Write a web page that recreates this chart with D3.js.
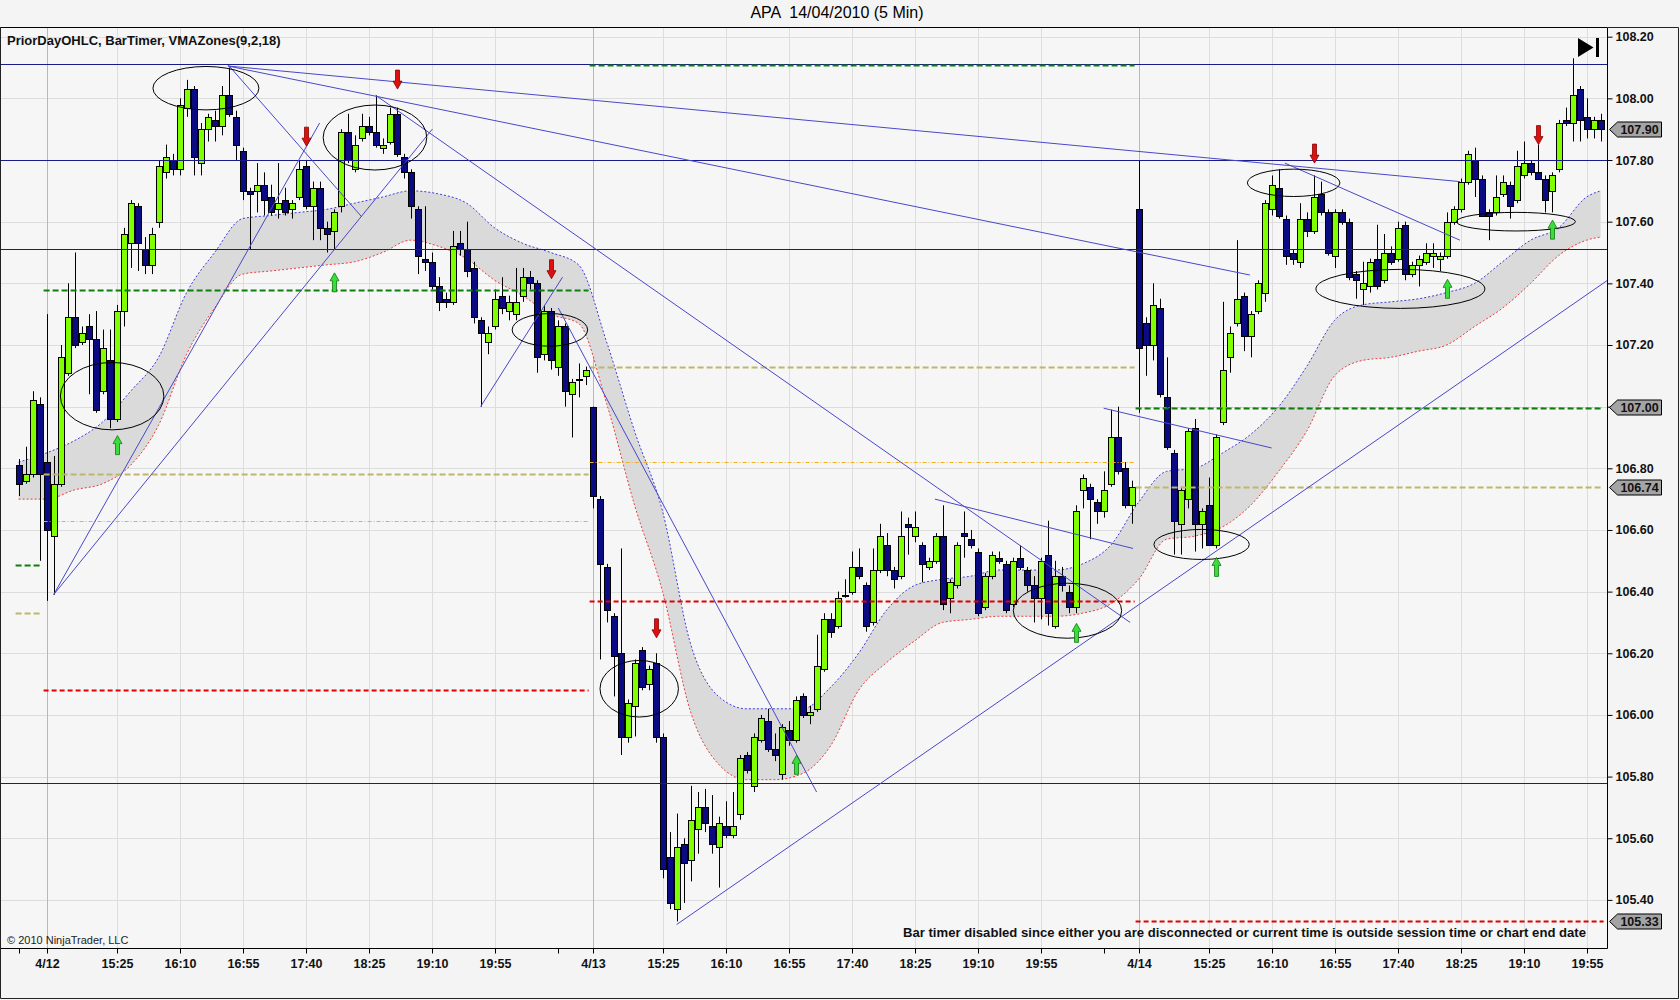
<!DOCTYPE html>
<html>
<head>
<meta charset="utf-8">
<script src="https://cdn.jsdelivr.net/npm/d3@7"></script>
<style>
  body { margin: 0; background: #f4f4f4; }
  svg text { font-family: "Liberation Sans", Arial, sans-serif; }
</style>
</head>
<body>
<svg id="chart" width="1680" height="1000"></svg>
<script>
// candles as [open, high, low, close], one list per session
const bars0409 = [
  [106.81,106.83,106.71,106.75],[106.76,106.87,106.75,106.78],[106.78,107.05,106.77,107.02],[107.01,107.03,106.50,106.78]
];
const bars0412 = [
  [106.82,107.30,106.37,106.60],[106.58,106.84,106.39,106.75],[106.75,107.20,106.74,107.16],[107.11,107.40,107.10,107.29],
  [107.29,107.50,107.19,107.20],[107.21,107.26,107.20,107.24],[107.26,107.30,107.04,107.22],[107.22,107.31,106.98,106.99],
  [107.05,107.25,107.04,107.19],[107.15,107.25,106.93,106.96],[106.96,107.33,106.95,107.31],[107.31,107.58,107.26,107.56],
  [107.53,107.67,107.45,107.66],[107.65,107.66,107.44,107.53],[107.51,107.55,107.43,107.46],[107.46,107.58,107.43,107.56],
  [107.60,107.80,107.58,107.78],[107.76,107.85,107.74,107.81],[107.80,107.82,107.75,107.77],[107.77,108.00,107.75,107.98],
  [107.97,108.06,107.94,108.03],[108.03,108.04,107.75,107.81],[107.79,107.92,107.75,107.90],[107.90,107.95,107.86,107.94],
  [107.93,107.96,107.86,107.91],[107.91,108.04,107.88,108.01],[108.01,108.10,107.94,107.95],[107.94,107.96,107.80,107.85],
  [107.83,107.84,107.67,107.70],[107.70,107.71,107.51,107.69],[107.70,107.79,107.63,107.72],[107.72,107.76,107.62,107.67],
  [107.68,107.72,107.62,107.63],[107.64,107.79,107.61,107.66],[107.67,107.71,107.62,107.63],[107.64,107.67,107.61,107.66],
  [107.68,107.80,107.67,107.77],[107.78,107.80,107.64,107.65],[107.65,107.73,107.54,107.71],[107.71,107.73,107.54,107.58],
  [107.58,107.60,107.50,107.56],[107.57,107.64,107.51,107.63],[107.65,107.90,107.63,107.89],[107.89,107.95,107.79,107.80],
  [107.77,107.88,107.76,107.85],[107.87,107.95,107.86,107.91],[107.91,107.94,107.88,107.89],[107.89,108.01,107.84,107.85],
  [107.84,107.87,107.82,107.85],[107.86,107.97,107.85,107.95],[107.95,107.97,107.81,107.82],[107.81,107.82,107.74,107.76],
  [107.76,107.77,107.61,107.65],[107.64,107.65,107.43,107.49],[107.48,107.65,107.44,107.47],[107.47,107.50,107.38,107.39],
  [107.39,107.42,107.31,107.34],[107.35,107.37,107.32,107.34],[107.34,107.57,107.33,107.52],[107.53,107.57,107.49,107.51],
  [107.51,107.60,107.42,107.44],[107.45,107.47,107.27,107.29],[107.28,107.29,107.00,107.24],[107.21,107.26,107.17,107.24],
  [107.26,107.38,107.25,107.35],[107.36,107.42,107.30,107.32],[107.31,107.36,107.28,107.34],[107.30,107.45,107.28,107.34],
  [107.36,107.45,107.34,107.42],[107.42,107.44,107.38,107.40],[107.40,107.41,107.11,107.16],[107.17,107.33,107.15,107.31],
  [107.31,107.32,107.12,107.15],[107.13,107.28,107.10,107.26],[107.26,107.27,107.00,107.05],[107.04,107.09,106.90,107.08],
  [107.09,107.14,107.03,107.09],[107.10,107.13,107.07,107.12]
];
const bars0413 = [
  [107.00,107.00,106.67,106.71],[106.70,106.71,106.18,106.49],[106.48,106.49,106.30,106.34],[106.32,106.33,106.06,106.19],
  [106.20,106.54,105.87,105.93],[105.93,106.05,105.91,106.04],[106.03,106.18,105.93,106.17],[106.21,106.22,106.08,106.09],
  [106.10,106.16,106.08,106.15],[106.17,106.20,105.91,105.93],[105.93,105.94,105.47,105.50],[105.54,105.62,105.37,105.39],
  [105.37,105.68,105.33,105.57],[105.58,105.60,105.39,105.52],[105.53,105.77,105.46,105.66],[105.63,105.75,105.55,105.70],
  [105.70,105.76,105.62,105.65],[105.64,105.74,105.55,105.58],[105.57,105.67,105.44,105.65],[105.64,105.72,105.60,105.61],
  [105.61,105.75,105.60,105.64],[105.68,105.87,105.66,105.86],[105.87,105.88,105.81,105.82],[105.77,105.94,105.75,105.93],
  [105.92,106.00,105.91,105.99],[105.98,106.02,105.88,105.89],[105.89,105.94,105.85,105.87],[105.81,105.97,105.79,105.96],
  [105.95,105.98,105.90,105.92],[105.92,106.06,105.91,106.05],[106.06,106.07,105.99,106.00],[106.00,106.03,105.97,106.01],
  [106.02,106.26,106.01,106.16],[106.15,106.33,106.14,106.31],[106.31,106.33,106.25,106.27],[106.29,106.40,106.28,106.38],
  [106.39,106.44,106.38,106.39],[106.40,106.53,106.39,106.48],[106.48,106.54,106.44,106.45],[106.42,106.43,106.27,106.29],
  [106.30,106.54,106.29,106.47],[106.47,106.62,106.46,106.58],[106.55,106.59,106.45,106.47],[106.47,106.48,106.41,106.44],
  [106.45,106.66,106.44,106.58],[106.62,106.64,106.52,106.61],[106.58,106.66,106.56,106.61],[106.55,106.56,106.43,106.49],
  [106.48,106.51,106.47,106.50],[106.50,106.59,106.49,106.58],[106.58,106.68,106.34,106.36],[106.38,106.44,106.33,106.43],
  [106.42,106.56,106.41,106.55],[106.59,106.66,106.51,106.58],[106.57,106.60,106.54,106.55],[106.53,106.54,106.32,106.33],
  [106.35,106.46,106.34,106.45],[106.45,106.53,106.44,106.52],[106.51,106.53,106.49,106.50],[106.49,106.50,106.33,106.34],
  [106.36,106.51,106.35,106.50],[106.51,106.55,106.47,106.48],[106.47,106.48,106.40,106.42],[106.42,106.45,106.30,106.38],
  [106.38,106.51,106.31,106.50],[106.52,106.63,106.29,106.33],[106.29,106.50,106.28,106.45],[106.45,106.48,106.40,106.42],
  [106.40,106.42,106.33,106.35],[106.35,106.68,106.33,106.66],[106.73,106.78,106.67,106.77],[106.74,106.75,106.57,106.70],
  [106.69,106.70,106.62,106.66],[106.66,106.79,106.64,106.73],[106.75,106.99,106.74,106.90],[106.90,107.00,106.78,106.79],
  [106.80,106.82,106.67,106.68],[106.68,106.76,106.62,106.74]
];
const bars0414 = [
  [107.64,107.80,106.98,107.19],[107.27,107.29,107.10,107.20],[107.20,107.40,107.15,107.33],[107.32,107.35,107.03,107.04],
  [107.03,107.16,106.86,106.87],[106.85,106.86,106.52,106.63],[106.62,106.74,106.52,106.73],[106.70,106.93,106.67,106.92],
  [106.93,106.96,106.53,106.62],[106.62,106.67,106.54,106.66],[106.68,106.77,106.55,106.55],[106.55,106.91,106.54,106.90],
  [106.95,107.34,106.94,107.12],[107.16,107.26,107.11,107.24],[107.27,107.54,107.26,107.35],[107.36,107.37,107.18,107.23],
  [107.23,107.31,107.16,107.30],[107.31,107.41,107.30,107.40],[107.37,107.67,107.34,107.66],[107.64,107.75,107.62,107.72],
  [107.71,107.77,107.61,107.62],[107.61,107.62,107.46,107.49],[107.50,107.51,107.46,107.48],[107.47,107.66,107.45,107.61],
  [107.61,107.63,107.55,107.57],[107.57,107.75,107.56,107.68],[107.69,107.73,107.62,107.63],[107.63,107.64,107.49,107.50],
  [107.49,107.64,107.45,107.63],[107.63,107.64,107.59,107.60],[107.60,107.61,107.41,107.42],[107.43,107.44,107.35,107.41],
  [107.38,107.47,107.33,107.40],[107.39,107.48,107.37,107.47],[107.48,107.59,107.38,107.39],[107.41,107.56,107.40,107.50],
  [107.50,107.52,107.46,107.47],[107.48,107.60,107.47,107.58],[107.59,107.60,107.41,107.43],[107.43,107.47,107.42,107.46],
  [107.46,107.49,107.39,107.48],[107.47,107.53,107.46,107.50],[107.49,107.53,107.45,107.50],[107.48,107.50,107.44,107.49],
  [107.49,107.63,107.48,107.60],[107.60,107.65,107.59,107.64],[107.64,107.74,107.63,107.73],[107.73,107.83,107.72,107.82],
  [107.80,107.84,107.68,107.74],[107.74,107.75,107.62,107.62],[107.63,107.64,107.54,107.62],[107.63,107.75,107.62,107.68],
  [107.69,107.75,107.68,107.73],[107.72,107.73,107.61,107.65],[107.67,107.83,107.66,107.78],[107.75,107.86,107.74,107.79],
  [107.79,107.80,107.75,107.76],[107.76,107.85,107.75,107.74],[107.74,107.75,107.63,107.67],[107.70,107.76,107.63,107.75],
  [107.77,107.93,107.76,107.92],[107.93,107.97,107.91,107.92],[107.92,108.13,107.86,108.01],[108.03,108.04,107.86,107.93],
  [107.94,108.00,107.87,107.90],[107.90,107.94,107.87,107.93],[107.93,107.95,107.86,107.90]
];
const firstBar = -4; // the four 4/9 bars sit left of the 4/12 open

// VMAZones band, read at every fourth bar
const bandBars  = [-4,0,4,8,12,16,20,24,28,32,36,40,44,48,52,56,60,64,68,72,76,80,84,88,92,96,100,104,108,112,116,120,124,128,132,136,140,144,148,152,156,160,164,168,172,176,180,184,188,192,196,200,204,208,212,216,220,222];
const bandUpper = [106.82,106.85,106.89,106.95,107.05,107.16,107.37,107.50,107.61,107.62,107.63,107.64,107.66,107.68,107.70,107.69,107.66,107.58,107.53,107.50,107.46,107.21,106.92,106.66,106.23,106.06,106.02,106.02,106.02,106.09,106.20,106.34,106.42,106.44,106.45,106.47,106.47,106.47,106.49,106.55,106.69,106.79,106.80,106.85,106.91,107.00,107.13,107.28,107.33,107.34,107.35,107.37,107.40,107.47,107.54,107.58,107.68,107.70];
const bandLower = [106.70,106.70,106.73,106.75,106.81,106.94,107.17,107.32,107.43,107.44,107.45,107.46,107.47,107.50,107.54,107.52,107.48,107.41,107.36,107.30,107.27,107.01,106.68,106.40,106.01,105.84,105.79,105.79,105.81,105.90,106.08,106.17,106.24,106.30,106.31,106.32,106.32,106.32,106.33,106.36,106.44,106.57,106.58,106.61,106.68,106.79,106.92,107.10,107.15,107.16,107.18,107.20,107.26,107.32,107.40,107.49,107.54,107.55];

// PriorDayOHLC values per session
const sessionStart = [-4, 0, 78, 156];
const sessionEnd   = [-1, 77, 155, 222];
const priorHigh  = [106.49, 107.38, 108.11, 107.00];
const priorLow   = [null,   106.08, 106.37, 105.33];
const priorOpen  = [null,   106.63, 106.82, 107.00];
const priorClose = [106.33, 106.78, 107.13, 106.74];
const markerPrices = [107.90, 107.00, 106.74, 105.33];

// hand drawn objects
const levelLines = [108.11, 107.80, 107.51, 105.78];
const trendLines = [ // [bar1, price1, bar2, price2]
  [1.0,106.39,39.0,107.92],[1.0,106.39,55.1,107.90],[25.9,108.105,201.9,107.73],[25.9,108.105,171.9,107.427],
  [26.0,108.107,45.0,107.616],[47.0,108.01,154.8,106.30],[73.1,107.32,110.0,105.75],[90.0,105.32,223.0,107.41],
  [126.9,106.70,155.2,106.54],[151.0,106.995,175.0,106.866],[176.9,107.79,201.9,107.54],[62.0,107.00,73.7,107.42]
];
const ellipses = [ // [centre bar, centre price, half width in bars, half height in price]
  [22.76,108.033,7.57,0.0704],[46.91,107.873,7.40,0.1054],[9.36,107.034,7.39,0.1093],[71.9,107.249,5.39,0.0529],
  [84.66,106.085,5.60,0.0918],[145.84,106.338,7.74,0.0892],[165.0,106.553,6.81,0.0487],[178.15,107.726,6.61,0.0444],
  [193.4,107.382,12.07,0.0633],[209.9,107.600,8.50,0.0302]
];
const downArrows = [[37,107.845],[50,108.03],[72,107.415],[87,106.25],[181,107.79],[213,107.85]];
const upArrows = [[10,106.906],[41,107.434],[107,105.869],[147,106.297],[167,106.511],[200,107.413],[215,107.605]];

const yTicks = [105.40,105.60,105.80,106.00,106.20,106.40,106.60,106.80,107.00,107.20,107.40,107.60,107.80,108.00,108.20];
const xTickBars = [0,10,19,28,37,46,55,64,78,88,97,106,115,124,133,142,156,166,175,184,193,202,211,220];
const xTickLabels = ["4/12","15:25","16:10","16:55","17:40","18:25","19:10","19:55","4/13","15:25","16:10","16:55","17:40","18:25","19:10","19:55","4/14","15:25","16:10","16:55","17:40","18:25","19:10","19:55"];
const dateBars = [0, 78, 156];
const minorTickBars = [-4, 73, 151];

const allBars = bars0409.concat(bars0412, bars0413, bars0414)
  .map((b, k) => ({ i: k + firstBar, o: b[0], h: b[1], l: b[2], c: b[3] }));

const W = 1680, H = 1000;
const plot = { left: 1, top: 27.5, right: 1607.5, bottom: 948.5 };

const x = d3.scaleLinear().domain([-4, 222]).range([18.6, 1600.6]);
const y = d3.scaleLinear().domain([105.40, 108.20]).range([899.9, 36.7]);
const px = v => Math.round(x(v)) + 0.5;
const py = v => Math.round(y(v)) + 0.5;

const svg = d3.select("#chart");
svg.append("rect").attr("width", W).attr("height", H).attr("fill", "#f4f4f4");
svg.append("rect")
  .attr("x", plot.left).attr("y", plot.top)
  .attr("width", plot.right - plot.left).attr("height", plot.bottom - plot.top)
  .attr("fill", "#f6f6f6");

svg.append("defs").append("clipPath").attr("id", "plotclip")
  .append("rect")
  .attr("x", plot.left).attr("y", plot.top)
  .attr("width", plot.right - plot.left).attr("height", plot.bottom - plot.top);

const g = svg.append("g").attr("clip-path", "url(#plotclip)");

// grid
g.append("g").selectAll("line").data(yTicks).join("line")
  .attr("x1", plot.left).attr("x2", plot.right)
  .attr("y1", d => py(d)).attr("y2", d => py(d))
  .attr("stroke", "#dddddd");
g.append("g").selectAll("line").data(xTickBars).join("line")
  .attr("x1", d => px(d)).attr("x2", d => px(d))
  .attr("y1", plot.top).attr("y2", plot.bottom)
  .attr("stroke", d => dateBars.includes(d) ? "#b8b8b8" : "#dddddd");

// VMAZones band
const band = bandBars.map((b, k) => ({ i: b, up: bandUpper[k], lo: bandLower[k] }));
g.append("path").datum(band)
  .attr("d", d3.area().x(d => x(d.i)).y0(d => y(d.lo)).y1(d => y(d.up)).curve(d3.curveMonotoneX))
  .attr("fill", "#dadada");
g.append("path").datum(band)
  .attr("d", d3.line().x(d => x(d.i)).y(d => y(d.up)).curve(d3.curveMonotoneX))
  .attr("fill", "none").attr("stroke", "#3c3cdc").attr("stroke-width", 1).attr("stroke-dasharray", "2,2");
g.append("path").datum(band)
  .attr("d", d3.line().x(d => x(d.i)).y(d => y(d.lo)).curve(d3.curveMonotoneX))
  .attr("fill", "none").attr("stroke", "#ee3c3c").attr("stroke-width", 1).attr("stroke-dasharray", "2,2");

// candles
const candles = g.append("g");
candles.selectAll("line").data(allBars).join("line")
  .attr("x1", d => px(d.i)).attr("x2", d => px(d.i))
  .attr("y1", d => y(d.h)).attr("y2", d => y(d.l))
  .attr("stroke", "#000").attr("stroke-width", 1);
candles.selectAll("rect").data(allBars).join("rect")
  .attr("x", d => Math.round(x(d.i)) - 2.5)
  .attr("width", 6)
  .attr("y", d => Math.round(y(Math.max(d.o, d.c))) + 0.5)
  .attr("height", d => Math.max(1, Math.round(y(Math.min(d.o, d.c))) - Math.round(y(Math.max(d.o, d.c)))))
  .attr("fill", d => d.c >= d.o ? "#7fff00" : "#0a0a82")
  .attr("stroke", "#000").attr("stroke-width", 1);

// drawn horizontal levels sit under the prior-day dashes
g.append("g").selectAll("line").data(levelLines).join("line")
  .attr("x1", plot.left).attr("x2", plot.right)
  .attr("y1", d => py(d)).attr("y2", d => py(d))
  .attr("stroke", "#1a1a8a").attr("stroke-width", 1.1);

// prior day levels
const prior = g.append("g");
function priorSeg(vals, color, width, dash, dy) {
  vals.forEach((v, k) => {
    if (v == null) return;
    prior.append("line")
      .attr("x1", x(sessionStart[k]) - 3).attr("x2", x(sessionEnd[k]) + 3)
      .attr("y1", py(v) + dy).attr("y2", py(v) + dy)
      .attr("stroke", color).attr("stroke-width", width).attr("stroke-dasharray", dash);
  });
}
priorSeg(priorOpen, "#f0b020", 1, "4,2,1,2", 0);
priorSeg(priorClose, "#bdb76b", 2, "6,3", 0);
priorSeg(priorLow, "#e00000", 2, "5,3", 0);
priorSeg(priorHigh, "#0a800a", 2, "6,3", 1);

// drawings
g.append("g").selectAll("line").data(trendLines).join("line")
  .attr("x1", d => x(d[0])).attr("y1", d => y(d[1]))
  .attr("x2", d => x(d[2])).attr("y2", d => y(d[3]))
  .attr("stroke", "#4848c8").attr("stroke-width", 1);
g.append("g").selectAll("ellipse").data(ellipses).join("ellipse")
  .attr("cx", d => x(d[0])).attr("cy", d => y(d[1]))
  .attr("rx", d => x(d[0] + d[2]) - x(d[0]))
  .attr("ry", d => y(d[1] - d[3]) - y(d[1]))
  .attr("fill", "none").attr("stroke", "#000").attr("stroke-width", 1);

function arrow(dir) { // dir 1: pointing down, tip at origin
  const pts = [[0,0],[-4.5,-8],[-2,-8],[-2,-19],[2,-19],[2,-8],[4.5,-8]];
  return "M" + pts.map(p => p[0] + "," + p[1] * dir).join("L") + "Z";
}
g.append("g").selectAll("path").data(downArrows).join("path")
  .attr("transform", d => `translate(${px(d[0])},${y(d[1])})`)
  .attr("d", arrow(1)).attr("fill", "#dd1010").attr("stroke", "#8a0000").attr("stroke-width", 0.8);
g.append("g").selectAll("path").data(upArrows).join("path")
  .attr("transform", d => `translate(${px(d[0])},${y(d[1])})`)
  .attr("d", arrow(-1)).attr("fill", "#3ade3a").attr("stroke", "#117711").attr("stroke-width", 0.8);

// go-to-end button
g.append("path").attr("d", "M1578,38L1593.5,47.5L1578,57Z").attr("fill", "#000");
g.append("rect").attr("x", 1596).attr("y", 38).attr("width", 3).attr("height", 19).attr("fill", "#000");

// texts inside the panel
svg.append("text").attr("x", 7).attr("y", 45)
  .attr("font-size", 13).attr("font-weight", "bold").attr("fill", "#111")
  .text("PriorDayOHLC, BarTimer, VMAZones(9,2,18)");
svg.append("text").attr("x", 7).attr("y", 944)
  .attr("font-size", 11).attr("fill", "#222")
  .text("\u00a9 2010 NinjaTrader, LLC");
svg.append("text").attr("x", 1586).attr("y", 937)
  .attr("font-size", 12.5).attr("font-weight", "bold").attr("text-anchor", "end")
  .attr("textLength", 683).attr("lengthAdjust", "spacingAndGlyphs").attr("fill", "#111")
  .text("Bar timer disabled since either you are disconnected or current time is outside session time or chart end date");
svg.append("text").attr("x", 837).attr("y", 18)
  .attr("font-size", 16).attr("text-anchor", "middle").attr("fill", "#000")
  .style("white-space", "pre")
  .text("APA  14/04/2010 (5 Min)");

// axes; a tick label hidden under a price marker is left out
const freeTicks = yTicks.filter(t => !markerPrices.some(m => Math.abs(y(m) - y(t)) < 12));
const yAxis = svg.append("g").attr("transform", `translate(${plot.right},0)`)
  .call(d3.axisRight(y).tickValues(yTicks).tickFormat(d => freeTicks.includes(d) ? d3.format(".2f")(d) : "")
    .tickSize(5).tickPadding(3));
yAxis.select(".domain").remove();
yAxis.selectAll("text").attr("font-size", 12.5).attr("font-weight", "bold")
  .attr("font-family", "Liberation Sans, Arial").attr("fill", "#111");

const xAxis = svg.append("g").attr("transform", `translate(0,${plot.bottom})`)
  .call(d3.axisBottom(x).tickValues(xTickBars).tickFormat((d, k) => xTickLabels[k]).tickSize(5).tickPadding(6));
xAxis.select(".domain").remove();
xAxis.selectAll("text").attr("font-size", 12.5).attr("font-weight", "bold")
  .attr("font-family", "Liberation Sans, Arial").attr("fill", "#111");
xAxis.selectAll(".tick").attr("transform", d => `translate(${px(d)},0)`);

const minor = svg.append("g").attr("transform", `translate(0,${plot.bottom})`)
  .call(d3.axisBottom(x).tickValues(minorTickBars).tickFormat("").tickSize(5));
minor.select(".domain").remove();
minor.selectAll(".tick").attr("transform", d => `translate(${px(d)},0)`);

// panel border
svg.append("path")
  .attr("d", `M${plot.left - 0.5},${plot.top}H${plot.right}V${plot.bottom}H${plot.left - 0.5}Z`)
  .attr("fill", "none").attr("stroke", "#000").attr("stroke-width", 1);
svg.append("path")
  .attr("d", `M0.5,${plot.top}V998.5H1678.5V${plot.top}H${plot.right}`)
  .attr("fill", "none").attr("stroke", "#222").attr("stroke-width", 1);

// price markers on the axis
const mk = svg.append("g").selectAll("g").data(markerPrices).join("g")
  .attr("transform", d => `translate(0,${py(d)})`);
mk.append("path")
  .attr("d", "M1609.5,0L1617.5,-7.5H1661.5V7.5H1617.5Z")
  .attr("fill", "#a4a4a4").attr("stroke", "#000").attr("stroke-width", 1);
mk.append("text").attr("x", 1639.5).attr("y", 4.6)
  .attr("text-anchor", "middle").attr("font-size", 12.5).attr("font-weight", "bold").attr("fill", "#111")
  .text(d => d.toFixed(2));
</script>
</body>
</html>
